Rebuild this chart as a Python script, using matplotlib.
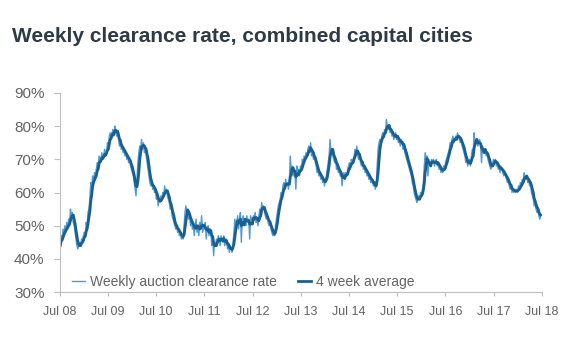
import pandas as pd
import matplotlib.pyplot as plt

# Weekly auction clearance rate (%), one row of values per stretch, from first week of Jul 2008
weekly_rate = [
    44, 47, 46, 49, 47, 50, 48, 51, 49, 52, 50, 55, 53, 54, 51, 50, 48, 46, 44, 43,
    44, 45, 44, 46, 45, 47, 48, 47, 51, 50, 54, 55, 58,
    63, 61, 65, 63, 66, 64, 67, 69, 68, 71, 69, 70, 72, 70, 71, 73, 71, 72, 75, 74, 77, 78, 76, 78, 79, 77, 80, 79,
    77, 78, 76, 74, 75, 73, 74, 72, 73, 71, 72, 70, 71, 69, 70, 68, 67, 66, 65, 63, 61, 59,
    64, 69, 72, 74, 73, 76, 73, 75, 72, 74, 71, 69, 67, 65, 63, 62, 63, 61, 62, 60, 61, 58, 59, 56, 58, 57, 59, 58, 60,
    59, 62, 60, 61, 59, 58, 57, 55, 56, 53, 52, 51, 50, 49, 50, 48, 49, 47, 48, 46, 47, 46,
    50, 54, 56, 54, 55, 52, 53, 50, 52, 49, 51, 47, 50, 52, 48, 50, 47, 51, 49, 53, 48, 50, 49, 51, 46, 49, 50, 47,
    49, 48, 44, 46, 41, 45, 44, 46, 45, 47, 46, 44, 47, 46, 45, 47, 44, 45, 46, 43, 44, 42, 44, 43, 42,
    45, 48, 52, 50, 51, 53, 49, 52, 54, 45, 52, 53, 51, 52, 50, 53, 51, 52, 46, 53, 52, 51, 53, 52, 54, 51, 52, 50,
    53, 55, 54, 57, 55, 56, 54, 53, 52, 53, 51, 50, 51, 49, 48, 47, 48, 47,
    50, 52, 54, 56, 57, 58, 60, 59, 62, 63, 61, 64, 62, 63, 61, 64, 71, 66, 68, 65, 67, 66, 61, 68, 66, 67, 65, 68,
    67, 70, 69, 71, 70, 72, 71, 73, 74, 72, 75, 71, 72, 70, 71, 69, 68, 66, 67, 65, 66, 64, 65, 63, 64, 62, 64,
    65, 67, 69, 71, 76, 72, 73, 71, 70, 69, 70, 67, 68, 66, 67, 65, 66, 62, 65, 66, 64, 66, 65, 67, 68, 69, 67, 70,
    69, 70, 71, 73, 72, 74, 71, 70, 71, 69, 68, 69, 67, 68, 66, 67, 65, 66, 64, 65, 63, 64, 63, 62, 63, 61, 62,
    68, 73, 75, 76, 75, 77, 78, 77, 79, 78, 82, 80, 79, 80, 78, 79, 77, 78, 76, 77, 78, 76, 77, 75, 76, 74, 76, 75,
    73, 74, 72, 71, 70, 69, 68, 67, 66, 65, 63, 62, 60, 59, 58, 57,
    58, 59, 58, 60, 59, 61, 63, 68, 72, 70, 71, 65, 70, 69, 68, 70, 69, 70, 68, 69, 70, 68, 69, 67, 68, 66, 67, 66,
    68, 67, 69, 70, 71,
    72, 73, 75, 74, 76, 77, 75, 76, 77, 76, 78, 77, 76, 75, 76, 74, 73, 72, 71, 69, 70, 68, 69, 70, 68, 71, 73, 72,
    78, 75, 76, 75, 74, 75, 76, 74, 69, 74, 73, 72, 73, 71, 72, 70, 69, 68, 67,
    68, 69, 70, 69, 70, 68, 69, 67, 68, 66, 68, 67, 66, 65, 66, 65, 64, 63, 64, 62, 61, 62, 60, 61, 60, 61, 60, 61,
    60, 62, 61, 63, 62, 64, 63, 66, 65, 64, 65, 63, 64, 62, 63, 60, 59, 58, 56, 57, 55, 54, 55, 53, 52, 53,
]
start_week = '2008-07-05'
tick_years = list(range(2008, 2019))
tick_labels = ['Jul %02d' % (y % 100) for y in tick_years]
y_ticks = [30, 40, 50, 60, 70, 80, 90]

dates = pd.date_range(start_week, periods=len(weekly_rate), freq='7D')
data = pd.DataFrame({'weekly': weekly_rate}, index=dates)
data['avg4'] = data['weekly'].rolling(4, min_periods=1).mean()

plt.rcParams['font.family'] = ['Liberation Sans', 'DejaVu Sans']

fig = plt.figure(figsize=(5.8, 3.52), dpi=100)
ax = fig.add_axes([0.103, 0.170, 0.831, 0.566])

ax.plot(data.index, data['weekly'], color='#4f9ad0', lw=1.0, label='Weekly auction clearance rate')
ax.plot(data.index, data['avg4'], color='#1b5f8f', lw=2.0, label='4 week average')

ax.set_ylim(30, 90)
ax.set_yticks(y_ticks)
ax.set_yticklabels(['%d%%' % v for v in y_ticks])
ax.set_xlim(pd.Timestamp('2008-07-01'), pd.Timestamp('2018-07-01'))
ax.set_xticks([pd.Timestamp('%d-07-01' % y) for y in tick_years])
ax.set_xticklabels(tick_labels)

for side in ['top', 'right']:
    ax.spines[side].set_visible(False)
for side in ['left', 'bottom']:
    ax.spines[side].set_color('#bfbfbf')
ax.tick_params(axis='y', colors='#bfbfbf', labelcolor='#636363', labelsize=11, length=4, pad=7)
ax.tick_params(axis='x', colors='#bfbfbf', labelcolor='#636363', labelsize=9, length=3, pad=7)

leg = ax.legend(loc='lower left', ncol=2, frameon=False, fontsize=10, handlelength=0.9,
                handletextpad=0.4, columnspacing=1.5, bbox_to_anchor=(0.0, -0.045))
for t in leg.get_texts():
    t.set_color('#636363')

fig.text(0.02, 0.88, 'Weekly clearance rate, combined capital cities',
         fontsize=15, fontweight='bold', color='#2f3a45', va='baseline')

fig.savefig('out.png', dpi=100)
